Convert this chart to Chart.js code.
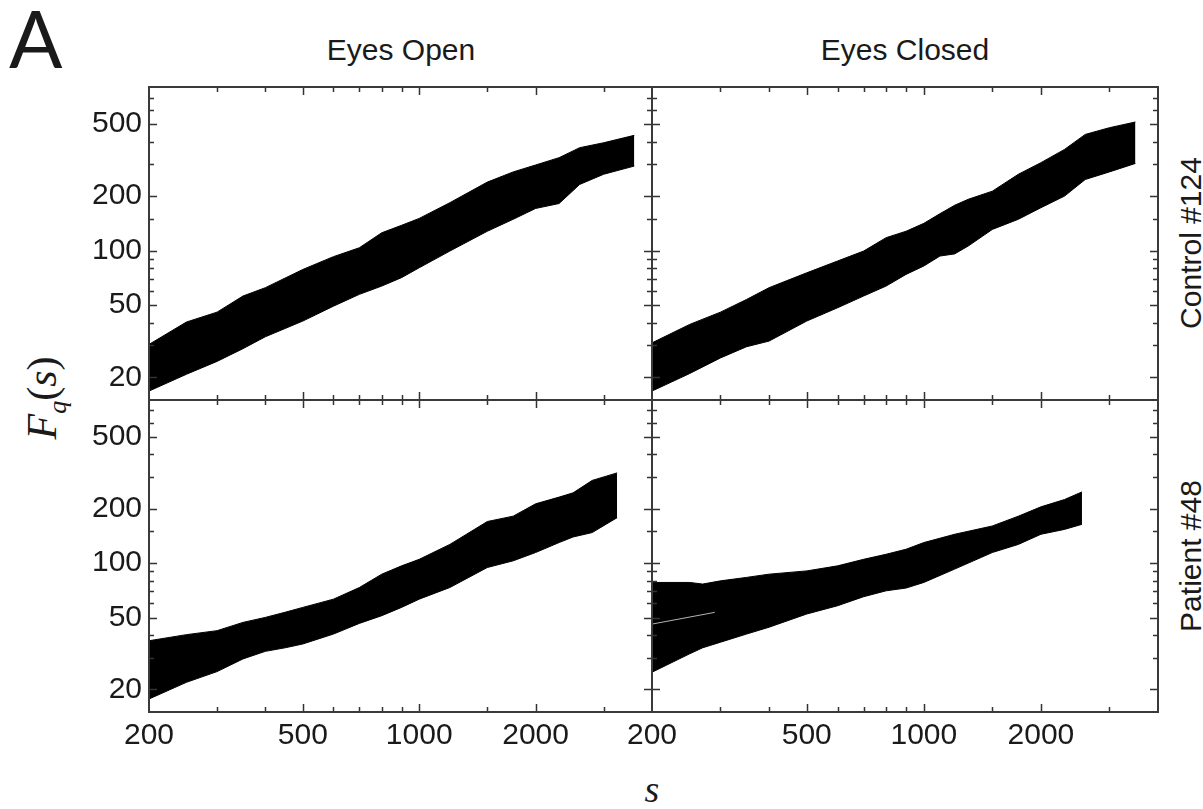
<!DOCTYPE html>
<html><head><meta charset="utf-8">
<script src="https://cdn.jsdelivr.net/npm/chart.js@4.4.1/dist/chart.umd.min.js"></script>
<style>
html,body{margin:0;padding:0;background:#fff;}
body{width:1203px;height:809px;overflow:hidden;position:relative;font-family:"Liberation Sans",Arial,sans-serif;}
canvas{position:absolute;left:0;top:0;}
.lbl{position:absolute;white-space:nowrap;color:#1a1a1a;line-height:1;}
.serif{font-family:"Liberation Serif","Times New Roman",serif;}
</style></head><body>
<div class="lbl" style="left:9px;top:-2px;font-family:Lato,'Liberation Sans',sans-serif;font-weight:400;font-size:79px;">A</div>
<div class="lbl" style="left:401px;top:35px;font-size:30px;transform:translateX(-50%);">Eyes Open</div>
<div class="lbl" style="left:905px;top:35px;font-size:30px;transform:translateX(-50%);">Eyes Closed</div>
<div class="lbl" style="left:1191px;top:243px;font-size:30px;line-height:30px;transform:translate(-50%,-50%) rotate(-90deg);">Control #124</div>
<div class="lbl" style="left:1191px;top:556px;font-size:30px;line-height:30px;transform:translate(-50%,-50%) rotate(-90deg);">Patient #48</div>
<div class="lbl serif" style="left:50px;top:398px;font-size:42px;line-height:42px;transform:translate(-50%,-50%) rotate(-90deg);"><i>F</i><sub style="font-size:26px;vertical-align:-10px;"><i>q</i></sub>(<i>s</i>)</div>
<div class="lbl serif" style="left:652px;top:770px;font-size:38px;transform:translateX(-50%);"><i>s</i></div>

<canvas id="c1" width="1203" height="809"></canvas>
<canvas id="c2" width="1203" height="809"></canvas>
<canvas id="c3" width="1203" height="809"></canvas>
<canvas id="c4" width="1203" height="809"></canvas>
<script>
// ---- axis ticks ----
const xTickValues = [200,300,400,500,600,700,800,900,1000,1500,2000,3000];
const xTickLabels = [200,500,1000,2000];
const xMajorTicks = [500,1000,2000];
const yTickValues = [20,30,40,50,60,70,80,90,100,150,200,300,400,500,600,700];
const yTickLabels = [20,50,100,200,500];
const yMajorTicks = [20,50,100,200,500];

// ---- Control #124, Eyes Open ----
const sOpenControl  = [200,250,300,350,400,500,600,700,800,900,1000,1200,1500,1750,2000,2300,2600,3000,3600];
const upOpenControl = [30.4,40.4,45.8,56.2,62.5,78.8,92.7,103.8,125.6,138,150.7,184,239,272,297,326,370,394,433];
const loOpenControl = [16.8,20.8,24.5,28.8,33.5,40.9,49.4,57.4,63.8,71,80.5,99.5,128,149,171,182,232,264,293];

// ---- Control #124, Eyes Closed ----
const sClosedControl  = [200,250,300,350,400,500,600,700,800,900,1000,1100,1200,1300,1500,1750,2000,2300,2600,3000,3500];
const upClosedControl = [31.0,39.2,45.8,53.8,62.5,75.5,87.7,99.5,118,128,141.5,160,178,192,213,264,306,362,438,477,513];
const loClosedControl = [16.8,21.0,25.6,29.5,31.7,40.9,48.4,56.2,63.8,74,82.3,93.4,96,106,131,149,172.6,200,247,272,303];

// ---- Patient #48, Eyes Open ----
const sOpenPatient  = [200,250,300,350,400,450,500,600,700,800,900,1000,1200,1500,1750,2000,2300,2500,2800,3250];
const upOpenPatient = [37.2,40.2,42.3,47,50.1,53.5,56.9,63.2,73.3,86.9,96.6,105,127,170,182,213,232,245,287,316];
const loOpenPatient = [17.7,21.9,25.1,29.5,32.5,34,35.7,40.5,46.4,51.2,56.9,63.2,73.3,94.6,103,114.5,130,139.6,147.6,178.6];

// ---- Patient #48, Eyes Closed ----
const sClosedPatient  = [200,250,270,300,350,400,500,600,700,800,900,1000,1200,1500,1750,2000,2300,2550];
const upClosedPatient = [78.2,78.2,76.6,79.8,83.4,86.9,90.6,96.6,105,112,119.4,130,144.5,160.6,182,205,225,248];
const loClosedPatient = [24.9,31.5,34.0,36.5,40.5,44.2,52.3,58.1,65.2,70.3,72.8,78.2,92.7,114.5,127,144.5,153.8,164];
const sSeam = [200,290];
const fSeam = [46,53.4];

const FONT = {family:'"Liberation Sans", Arial, sans-serif', size:30};
const zip = (xs, ys) => xs.map((v,i) => ({x:v, y:ys[i]}));

const framePlugin = {
  id:'frame',
  afterDraw(chart){
    const {ctx, chartArea:a, scales:{x,y}} = chart;
    ctx.save();
    ctx.strokeStyle = '#333';
    ctx.lineWidth = 1.5;
    ctx.beginPath();
    xTickValues.forEach(v => {
      if (v <= 200) return;
      const px = Math.round(x.getPixelForValue(v)) + 0.5;
      const L = xMajorTicks.includes(v) ? 8 : 5;
      ctx.moveTo(px, a.bottom); ctx.lineTo(px, a.bottom - L);
      ctx.moveTo(px, a.top); ctx.lineTo(px, a.top + L);
    });
    yTickValues.forEach(v => {
      const py = Math.round(y.getPixelForValue(v)) + 0.5;
      const L = yMajorTicks.includes(v) ? 8 : 5;
      ctx.moveTo(a.left, py); ctx.lineTo(a.left + L, py);
      ctx.moveTo(a.right, py); ctx.lineTo(a.right - L, py);
    });
    ctx.stroke();
    ctx.lineWidth = 2;
    ctx.strokeStyle = '#3a3a3a';
    ctx.strokeRect(a.left, a.top, a.right - a.left, a.bottom - a.top);
    ctx.restore();
  }
};

function makePanel(id, rect, s, up, lo, showX, showY, seam) {
  const datasets = [];
  if (seam) {
    datasets.push({data: zip(seam.s, seam.f), borderColor:'rgba(225,225,225,0.8)', borderWidth:1, fill:false, pointRadius:0});
  }
  const upIdx = datasets.length;
  datasets.push({data: zip(s, up), borderColor:'#000', backgroundColor:'#000', borderWidth:1, fill:false, pointRadius:0});
  datasets.push({data: zip(s, lo), borderColor:'#000', backgroundColor:'#000', borderWidth:1, fill:upIdx, pointRadius:0});
  new Chart(document.getElementById(id), {
    type:'line',
    data:{datasets},
    options:{
      responsive:false, animation:false, devicePixelRatio:1,
      layout:{padding:{left:rect.l-80, right:1203-rect.r, top:rect.t, bottom:809-rect.b-60}},
      plugins:{legend:{display:false}, tooltip:{enabled:false}},
      elements:{line:{tension:0, borderJoinStyle:'round'}, point:{radius:0}},
      scales:{
        x:{type:'logarithmic', min:200, max:4000, position:'bottom',
           grid:{display:false, drawTicks:false}, border:{display:false},
           afterBuildTicks: sc => { sc.ticks = xTickValues.map(v => ({value:v})); },
           afterFit: sc => { sc.height = 60; },
           ticks:{display:showX, autoSkip:false, maxRotation:0, minRotation:0, padding:6, color:'#1a1a1a', font:FONT,
                  callback: v => xTickLabels.includes(v) ? String(v) : ''}},
        y:{type:'logarithmic', min:15, max:800, position:'left',
           grid:{display:false, drawTicks:false}, border:{display:false},
           afterBuildTicks: sc => { sc.ticks = yTickValues.map(v => ({value:v})); },
           afterFit: sc => { sc.width = 80; },
           ticks:{display:showY, autoSkip:false, padding:7, color:'#1a1a1a', font:FONT,
                  callback: v => yTickLabels.includes(v) ? String(v) : ''}}
      }
    },
    plugins:[framePlugin]
  });
}

makePanel('c1', {l:149,t:87,r:652,b:400}, sOpenControl, upOpenControl, loOpenControl, false, true);
makePanel('c2', {l:652,t:87,r:1158,b:400}, sClosedControl, upClosedControl, loClosedControl, false, false);
makePanel('c3', {l:149,t:400,r:652,b:712}, sOpenPatient, upOpenPatient, loOpenPatient, true, true);
makePanel('c4', {l:652,t:400,r:1158,b:712}, sClosedPatient, upClosedPatient, loClosedPatient, true, false, {s:sSeam, f:fSeam});
</script>
</body></html>
